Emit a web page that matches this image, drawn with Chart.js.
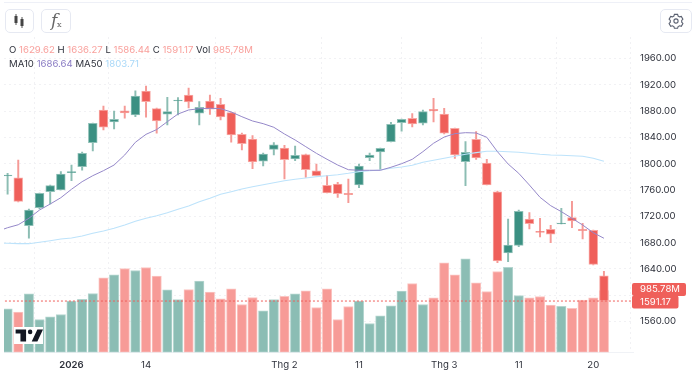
<!DOCTYPE html>
<html>
<head>
<meta charset="utf-8">
<script src="https://cdn.jsdelivr.net/npm/chart.js@4"></script>
<style>
  html, body { margin: 0; padding: 0; background: #fff; }
  #wrap { position: relative; width: 700px; height: 377px; overflow: hidden; font-family: Inter, sans-serif; }
  #chart { position: absolute; left: 0; top: 0; }
  .rule { position: absolute; left: 4px; top: 2px; width: 688px; height: 1px; background: #eef0f7; }
  .btn { position: absolute; top: 9px; height: 24px; box-sizing: border-box; border: 1px solid #e6e9f2; border-radius: 5px; background: #fff; }
  .legend { position: absolute; left: 9px; font-size: 9.6px; line-height: 14px; color: #2f323c; white-space: nowrap; }
  .up { color: #f9a09c; } .ma1 { color: #8a7cc4; } .ma2 { color: #a9d8f8; }
  #logo { position: absolute; left: 14px; top: 327px; width: 29px; height: 17px; background: #fff; }
</style>
</head>
<body>
<div id="wrap">
  <canvas id="chart" width="700" height="377"></canvas>
  <div class="rule"></div>
  <div class="btn" style="left:5px;width:29px">
    <svg width="27" height="22"><path d="M10 4v11M16 7v11" stroke="#555" stroke-width="1"/><rect x="8.5" y="6" width="3" height="7" fill="#444"/><rect x="14.5" y="9" width="3" height="7" fill="#444"/></svg>
  </div>
  <div class="btn" style="left:41px;width:30px;font-family:'DejaVu Serif',serif;color:#666">
    <span style="position:absolute;left:9px;top:0;font-size:17px;font-weight:200;font-style:italic">f</span><span style="position:absolute;left:15px;top:10px;font-size:8px">x</span>
  </div>
  <div class="btn" style="left:660px;width:32px">
    <svg width="30" height="22" viewBox="0 0 30 22"><g transform="translate(15 11)" fill="none" stroke="#5a6070" stroke-width="1.1"><path d="M-1.6 -6.6h3.2l.5 1.7 1.5.8 1.7-.5 1.6 2.8-1.2 1.3v1.7l1.2 1.3-1.6 2.8-1.7-.5-1.5.8-.5 1.7h-3.2l-.5-1.7-1.5-.8-1.7.5-1.6-2.8 1.2-1.3v-1.7l-1.2-1.3 1.6-2.8 1.7.5 1.5-.8z"/><circle r="2.1"/></g></svg>
  </div>
  <div class="legend" style="top:42.5px">O <span class="up">1629.62</span> H <span class="up">1636.27</span> L <span class="up">1586.44</span> C <span class="up">1591.17</span> Vol <span class="up">985,78M</span></div>
  <div class="legend" style="top:57px">MA10 <span class="ma1">1686.64</span> MA50 <span class="ma2">1803.71</span></div>
  <div id="logo">
    <svg width="29" height="17" viewBox="0 0 36 21"><path d="M15 3H2v5h6v10h7zM29 18h-7l7-15h7z" fill="#131722"/><circle cx="20" cy="6" r="2.8" fill="#131722"/></svg>
  </div>
</div>
<script>
const tickIndex = [6, 13, 26, 33, 41, 48, 55];
const tickLabels = ["2026", "14", "Thg 2", "11", "Thg 3", "11", "20"];
const priceTicks = [1960, 1920, 1880, 1840, 1800, 1760, 1720, 1680, 1640, 1600, 1560];

const opens = [1781.3,1778.7,1705.7,1733.1,1757.4,1760,1786.3,1795.4,1832,1881.7,1863.4,1880.6,1874.1,1910.6,1883.7,1875.2,1895.5,1904.5,1876.7,1895.1,1890.4,1877.6,1844.7,1837.6,1803.7,1821.9,1823.9,1807.2,1813.7,1789,1767.2,1769.2,1755,1767.6,1809.1,1817.8,1833.5,1862.4,1869.1,1861.5,1882.8,1875.6,1853.9,1803.1,1837.1,1801.1,1757.4,1664.2,1675.9,1715.9,1697.2,1700.3,1708.3,1717.9,1700.3,1698.7,1629.62];
const highs = [1785.4,1805.6,1731.1,1755.5,1767.6,1787.9,1798,1817.8,1861.9,1887.8,1880.2,1887.8,1911,1918.2,1884.7,1901,1900.4,1915.2,1894.3,1904.5,1899.5,1878.7,1846.7,1842.6,1816.3,1832,1828,1827,1814.8,1799.6,1782.4,1771.7,1776.8,1799.6,1816.3,1823.9,1863,1868,1876.1,1881.7,1899.5,1884.3,1854.3,1833.5,1848.7,1806.7,1758.5,1715.9,1729.6,1725.5,1717,1706.3,1732.2,1742.8,1709.4,1699.2,1636.27];
const lows = [1753.5,1742,1686.6,1731.1,1738.7,1760,1774.2,1790,1819.3,1851.3,1852.8,1869.1,1871.5,1870.6,1846.3,1858.9,1874.1,1884.7,1858.9,1874.9,1866.5,1832.6,1820.9,1792.4,1796.5,1813.3,1776.8,1804.6,1779.3,1781.8,1755.5,1748.9,1740.7,1763.5,1804.6,1791.5,1833,1849.3,1855.8,1858.9,1863.5,1845.2,1808.2,1766.6,1806.7,1767.6,1649.5,1651,1673.8,1700.7,1688.6,1679.9,1708.3,1702.7,1685.5,1646,1586.44];
const closes = [1782.8,1742.8,1729.6,1755,1766.6,1784.4,1787.9,1815.8,1861.5,1855.4,1867.6,1877.1,1903,1894.3,1865,1879.1,1896.9,1893.9,1885.8,1882.8,1871.1,1843.7,1830.4,1802.6,1814.8,1828.9,1806.1,1812.8,1790.9,1781.8,1755.5,1754.4,1752.9,1796.5,1813.3,1823.5,1860,1867.6,1860.4,1879.1,1880.2,1846.3,1813.3,1817.4,1808.7,1767.6,1652,1676.4,1727.6,1708.8,1695.7,1692.7,1709.8,1712.9,1698.1,1647,1591.17];
const volumes = [695,641,933,525,568,604,816,847,938,1188,1235,1336,1304,1352,1213,997,843,1002,1134,959,854,1013,763,875,663,843,895,933,981,716,1013,525,731,816,461,584,743,975,1097,763,870,1426,1235,1490,1108,970,1288,1356,906,870,890,752,736,704,832,870,985.78];
// one value before the first visible candle, the lines run in from the left edge
const ma10 = [1696.9,1702.7,1707.2,1717,1729.6,1738.7,1748.3,1761.1,1772.7,1781.8,1789.4,1798,1813.3,1832.6,1844.7,1851.9,1863.9,1875.6,1881.7,1883.7,1884.3,1883.7,1878.7,1871.5,1865,1860.9,1855.4,1845.2,1836.1,1825.9,1815.8,1806.7,1798,1790.9,1790,1790,1790,1794.6,1800,1806.7,1818.3,1831.1,1840.6,1845.7,1847.2,1846.7,1840.2,1818.3,1799.6,1785.4,1767.6,1748.9,1736.2,1727.1,1717,1706.8,1695.1,1686.64];
const ma50 = [1679,1679,1678.4,1678.4,1680.5,1682.9,1685.5,1687,1690,1694.2,1697.7,1701.8,1706.8,1712.4,1717,1721,1725.5,1730.7,1735.7,1742.2,1747.6,1753.5,1757.4,1761.5,1765,1768.1,1771.1,1774.2,1776.3,1778.3,1780.3,1781.8,1783.3,1785.4,1787.9,1789.4,1790.4,1793,1795,1797.6,1802.2,1805.2,1808.2,1811.3,1814.3,1816.8,1818.9,1818.9,1818.3,1817.4,1815.8,1814.3,1813.3,1812.8,1812.2,1811.3,1808.2,1803.71];
const lastClose = 1591.17;
const lastVolume = 985.78;

const idx = closes.map((_, i) => i);
const isUp = i => closes[i] >= opens[i];
const pick = (i, up, down) => isUp(i) ? up : down;

const grid = "#f1f1f4";
const axisFont = { family: "Inter", size: 9.6 };

// last value boxes on the price axis
const tags = {
  id: "tags",
  afterDraw(chart) {
    const { ctx } = chart;
    const yLast = chart.scales.y.getPixelForValue(lastClose);
    ctx.save();
    ctx.fillStyle = "#ef5f5a";
    ctx.beginPath();
    ctx.roundRect(632, yLast - 18, 54, 13, 2);
    ctx.roundRect(632, yLast - 5.5, 46.5, 13, 2);
    ctx.fill();
    ctx.fillStyle = "#fff";
    ctx.font = "9.6px Inter";
    ctx.textBaseline = "middle";
    ctx.fillText(lastVolume.toFixed(2) + "M", 640, yLast - 11.5);
    ctx.fillText(lastClose.toFixed(2), 640, yLast + 1);
    ctx.restore();
  }
};

new Chart(document.getElementById("chart"), {
  type: "bar",
  data: {
    datasets: [
      {
        order: 5, yAxisID: "y2", grouped: false, barThickness: 9.4,
        data: idx.map(i => ({ x: i, y: volumes[i] })),
        backgroundColor: idx.map(i => pick(i, "#8bbdb4", "#f79b97")),
        borderColor: idx.map(i => pick(i, "#b5d6d0", "#fbc5c2")),
        borderWidth: 1, borderSkipped: false
      },
      {
        order: 4, yAxisID: "y", grouped: false, barThickness: 1.3,
        data: idx.map(i => ({ x: i, y: [lows[i], highs[i]] })),
        backgroundColor: idx.map(i => pick(i, "#8cbdb3", "#f59a96")),
        borderWidth: 0
      },
      {
        order: 3, yAxisID: "y", grouped: false, barThickness: 8.8,
        data: idx.map(i => ({ x: i, y: [opens[i], closes[i]] })),
        backgroundColor: idx.map(i => pick(i, "#3b9082", "#ef5f5a")),
        borderColor: idx.map(i => pick(i, "#8fc0b7", "#f8a9a5")),
        borderWidth: 1, borderSkipped: false
      },
      {
        type: "line", order: 2, yAxisID: "y",
        data: ma50.map((v, i) => ({ x: i - 1, y: v })),
        borderColor: "#bde3fb", borderWidth: 1.1, pointRadius: 0, tension: 0
      },
      {
        type: "line", order: 1, yAxisID: "y",
        data: ma10.map((v, i) => ({ x: i - 1, y: v })),
        borderColor: "#9588c9", borderWidth: 1, pointRadius: 0, tension: 0
      },
      {
        type: "line", order: 0, yAxisID: "y",
        data: [{ x: -1, y: lastClose }, { x: 60, y: lastClose }],
        borderColor: "#ef5f5a", borderWidth: 1, borderDash: [2, 2], pointRadius: 0
      }
    ]
  },
  options: {
    responsive: false,
    animation: false,
    events: [],
    layout: { padding: { left: 4, top: 37, right: 0, bottom: 0 } },
    plugins: { legend: { display: false }, tooltip: { enabled: false } },
    scales: {
      x: {
        type: "linear",
        offset: false,
        min: -0.338,
        max: 58.73,
        afterBuildTicks(s) { s.ticks = tickIndex.map(v => ({ value: v })); },
        afterFit(s) { s.height = 24.5; },
        grid: { color: grid, drawTicks: false },
        border: { color: "#f0f2f6", dash: [2, 3] },
        ticks: {
          padding: 7, maxRotation: 0, autoSkip: false, color: "#2f323c",
          font: c => ({ ...axisFont, weight: c.index === 0 ? 600 : 400 }),
          callback: v => tickLabels[tickIndex.indexOf(v)]
        }
      },
      y: {
        position: "right",
        min: 1512.9,
        max: 1992.7,
        afterBuildTicks(s) { s.ticks = priceTicks.map(v => ({ value: v })); },
        afterFit(s) { s.width = 67; },
        grid: { color: grid, drawTicks: false },
        border: { display: false, dash: [2, 3] },
        ticks: { padding: 7, crossAlign: "near", color: "#2f323c", font: axisFont, callback: v => v.toFixed(2) }
      },
      y2: { display: false, min: 0, max: 5016 }
    }
  },
  plugins: [tags]
});
</script>
</body>
</html>
